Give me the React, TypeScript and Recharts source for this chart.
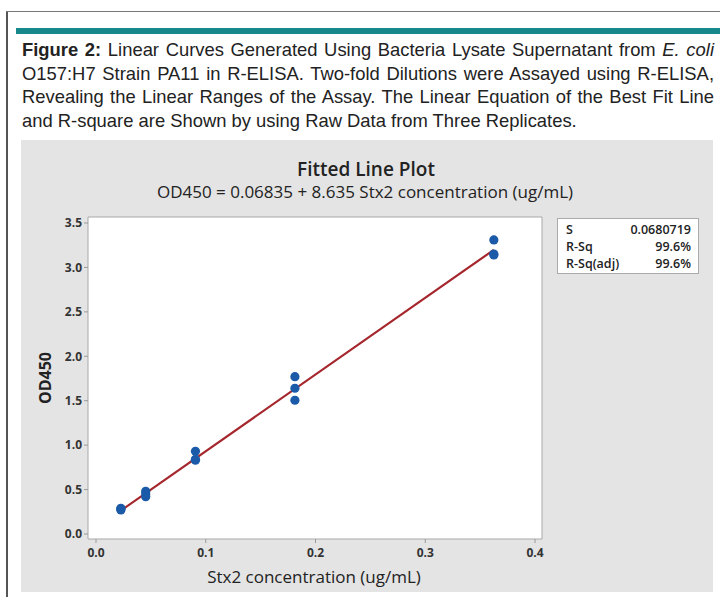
import React from "react";
import {
  ScatterChart,
  Scatter,
  XAxis,
  YAxis,
  CartesianGrid,
  ReferenceArea,
} from "recharts";

// Stx2 concentrations (ug/mL), two-fold dilutions
const concentrations = [0.02266, 0.0453, 0.0906, 0.18125, 0.3625];
// OD450 of three replicates
const replicate1 = [0.29, 0.48, 0.93, 1.77, 3.31];
const replicate2 = [0.28, 0.45, 0.83, 1.64, 3.15];
const replicate3 = [0.27, 0.42, 0.84, 1.505, 3.14];
// fitted line end points (OD450 = 0.06835 + 8.635 x)
const fitX = [0.02266, 0.3625];
const fitY = [0.264, 3.198];

const xTicks = [0, 0.1, 0.2, 0.3, 0.4];
const yTicks = [0, 0.5, 1.0, 1.5, 2.0, 2.5, 3.0, 3.5];

const statLabels = ["S", "R-Sq", "R-Sq(adj)"];
const statValues = ["0.0680719", "99.6%", "99.6%"];

const captionLines = [
  null,
  "O157:H7 Strain PA11 in R-ELISA. Two-fold Dilutions were Assayed using R-ELISA,",
  "Revealing the Linear Ranges of the Assay. The Linear Equation of the Best Fit Line",
  "and R-square are Shown by using Raw Data from Three Replicates.",
];

const points = concentrations.flatMap((c, i) => [
  { x: c, y: replicate1[i] },
  { x: c, y: replicate2[i] },
  { x: c, y: replicate3[i] },
]);
const fitData = fitX.map((x, i) => ({ x, y: fitY[i] }));

const X_MIN = -0.00729;
const X_MAX = 0.40638;
const Y_MIN = -0.0563;
const Y_MAX = 3.5675;

const UI = "'Open Sans', 'Noto Sans', sans-serif";
const tickStyle = { fontSize: 12, fill: "#333", fontFamily: UI, fontWeight: 700 };

export default function App() {
  return (
    <div
      style={{
        position: "absolute",
        left: 0,
        top: 0,
        width: 720,
        height: 597,
        background: "#fff",
        overflow: "hidden",
      }}
    >
      {/* frame */}
      <div style={{ position: "absolute", left: 6, top: 11, width: 2, height: 600, background: "#555" }} />
      <div style={{ position: "absolute", left: 6, top: 11, width: 720, height: 1, background: "#777" }} />
      {/* teal bar */}
      <div style={{ position: "absolute", left: 16, top: 28, width: 710, height: 6, background: "#17898b" }} />
      {/* caption */}
      <div
        style={{
          position: "absolute",
          left: 22,
          top: 38,
          width: 692,
          fontFamily: "'Liberation Sans', Arial, sans-serif",
          fontSize: 18.4,
          lineHeight: "23.5px",
          color: "#222",
        }}
      >
        {captionLines.map((line, i) => (
          <div
            key={i}
            style={{
              whiteSpace: "nowrap",
              textAlign: i < 3 ? "justify" : "left",
              textAlignLast: i < 3 ? "justify" : "left",
            }}
          >
            {i === 0 ? (
              <>
                <b>Figure 2:</b> Linear Curves Generated Using Bacteria Lysate Supernatant from <i>E. coli</i>
              </>
            ) : (
              line
            )}
          </div>
        ))}
      </div>
      {/* grey chart panel */}
      <div style={{ position: "absolute", left: 21, top: 140, width: 692, height: 452, background: "#e4e4e4" }}>
        <ScatterChart
          width={692}
          height={452}
          margin={{ top: 77, right: 171, bottom: 23, left: 0 }}
        >
          <CartesianGrid horizontal={false} vertical={false} fill="#ffffff" stroke="none" />
          <ReferenceArea
            x1={X_MIN}
            x2={X_MAX}
            y1={Y_MIN}
            y2={Y_MAX}
            fill="none"
            stroke="#a8a8a8"
            strokeWidth={1}
            ifOverflow="extendDomain"
          />
          <XAxis
            type="number"
            dataKey="x"
            domain={[X_MIN, X_MAX]}
            ticks={xTicks}
            tickFormatter={(v: number) => v.toFixed(1)}
            axisLine={false}
            tickLine={{ stroke: "#999" }}
            tickSize={4}
            tickMargin={5}
            tick={tickStyle}
            height={30}
            allowDataOverflow
          />
          <YAxis
            type="number"
            dataKey="y"
            domain={[Y_MIN, Y_MAX]}
            ticks={yTicks}
            tickFormatter={(v: number) => v.toFixed(1)}
            axisLine={false}
            tickLine={{ stroke: "#999" }}
            tickSize={4}
            tick={tickStyle}
            width={67}
            allowDataOverflow
          />
          <Scatter
            data={fitData}
            line={{ stroke: "#a5262c", strokeWidth: 2.2 }}
            shape={() => null}
            isAnimationActive={false}
          />
          <Scatter data={points} fill="#1a5aa8" isAnimationActive={false} shape={(p: any) => (
            <circle cx={p.cx} cy={p.cy} r={4.6} fill="#1a5aa8" />
          )} />
        </ScatterChart>
      </div>
      {/* titles */}
      <div
        style={{
          position: "absolute",
          left: 366,
          top: 169,
          transform: "translate(-50%, -50%)",
          whiteSpace: "nowrap",
          fontFamily: UI,
          fontWeight: 600,
          fontSize: 19,
          color: "#222",
          lineHeight: 1,
        }}
      >
        Fitted Line Plot
      </div>
      <div
        style={{
          position: "absolute",
          left: 365,
          top: 191,
          transform: "translate(-50%, -50%)",
          whiteSpace: "nowrap",
          fontFamily: UI,
          fontSize: 17,
          color: "#222",
          lineHeight: 1,
        }}
      >
        OD450 = 0.06835 + 8.635 Stx2 concentration (ug/mL)
      </div>
      {/* axis labels */}
      <div
        style={{
          position: "absolute",
          left: 314,
          top: 576,
          transform: "translate(-50%, -50%)",
          whiteSpace: "nowrap",
          fontFamily: UI,
          fontWeight: 500,
          fontSize: 17,
          color: "#222",
          lineHeight: 1,
        }}
      >
        Stx2 concentration (ug/mL)
      </div>
      <div
        style={{
          position: "absolute",
          left: 45,
          top: 378,
          transform: "translate(-50%, -50%) rotate(-90deg)",
          whiteSpace: "nowrap",
          fontFamily: UI,
          fontWeight: 700,
          fontSize: 16,
          color: "#222",
          lineHeight: 1,
        }}
      >
        OD450
      </div>
      {/* stats box */}
      <div
        style={{
          position: "absolute",
          left: 557,
          top: 218,
          width: 142,
          height: 56,
          boxSizing: "border-box",
          background: "#fff",
          border: "1px solid #aaa",
          padding: "2px 7px 0 8px",
          fontFamily: UI,
          fontWeight: 600,
          fontSize: 12.5,
          color: "#222",
        }}
      >
        {statLabels.map((l, i) => (
          <div key={l} style={{ display: "flex", justifyContent: "space-between", lineHeight: "17px" }}>
            <span>{l}</span>
            <span>{statValues[i]}</span>
          </div>
        ))}
      </div>
    </div>
  );
}
